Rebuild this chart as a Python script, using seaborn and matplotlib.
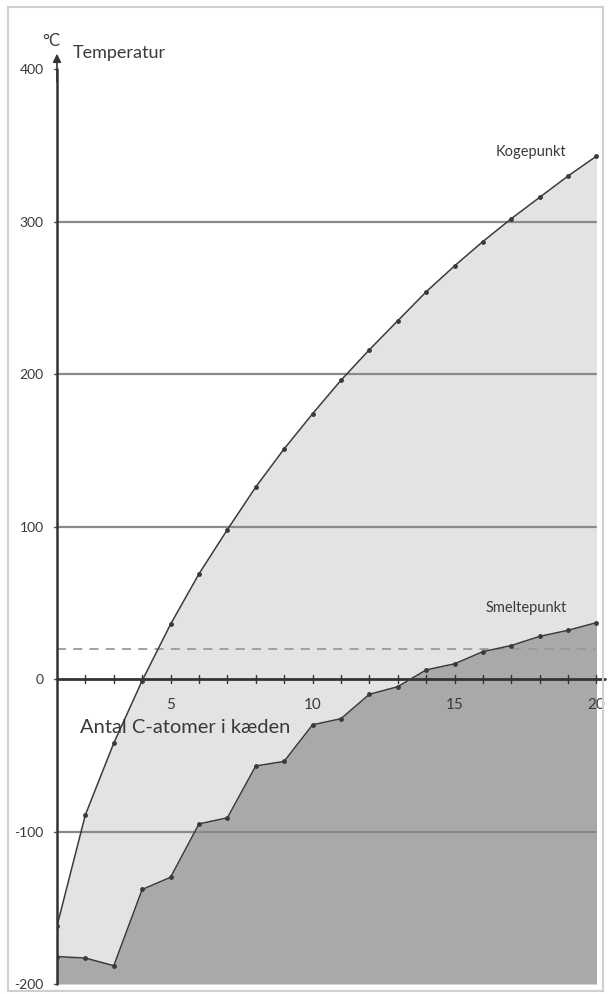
import matplotlib
matplotlib.use("Agg")
import matplotlib.pyplot as plt
import matplotlib.patches as mpatches
import pandas as pd
import seaborn as sns

# Straight-chain alkanes: boiling and melting points (°C) by chain length
carbon_atoms = list(range(1, 21))
boiling_points = [-162, -89, -42, -1, 36, 69, 98, 126, 151, 174,
                  196, 216, 235, 254, 271, 287, 302, 316, 330, 343]
melting_points = [-182, -183, -188, -138, -130, -95, -91, -57, -54, -30,
                  -26, -10, -5, 6, 10, 18, 22, 28, 32, 37]
y_ticks = [-200, -100, 0, 100, 200, 300, 400]
y_tick_labels = ["-200", "-100", "0", "100", "200", "300", "400"]
x_ticks = [5, 10, 15, 20]
grid_levels = [-100, 100, 200, 300]
room_temperature = 20

df = pd.DataFrame({"C": carbon_atoms, "kog": boiling_points, "smelt": melting_points})

sns.set_theme(style="white")
plt.rcParams["font.family"] = ["Lato", "DejaVu Sans"]

W, H = 610, 995
fig = plt.figure(figsize=(W / 100, H / 100), dpi=100)
left_px, right_px, top_px, bottom_px = 57, 605, 55, 985
ax = fig.add_axes([left_px / W, 1 - bottom_px / H,
                   (right_px - left_px) / W, (bottom_px - top_px) / H])
ax.set_xlim(1, 20.3)
ax.set_ylim(-200, 410)
ax.axis("off")

light = "#e3e3e3"
dark = "#a9a9a9"
ink = "#3a3a3a"

# shaded phases: solid below melting curve, liquid between the curves
ax.fill_between(df["C"], -200, df["smelt"], color=dark, lw=0, zorder=1)
ax.fill_between(df["C"], df["smelt"], df["kog"], color=light, lw=0, zorder=1)

# horizontal reference lines
for g in grid_levels:
    ax.plot([1, 20], [g, g], color="#8a8a8a", lw=1.6, zorder=2)
ax.plot([1, 20], [room_temperature] * 2, color="#9a9a9a", lw=1.3,
        ls=(0, (5, 4)), zorder=2)

# curves with a dot at each chain length
sns.lineplot(data=df, x="C", y="kog", ax=ax, color=ink, lw=1.1,
             marker="o", markersize=3.5, markeredgewidth=0, zorder=4)
sns.lineplot(data=df, x="C", y="smelt", ax=ax, color=ink, lw=1.1,
             marker="o", markersize=3.5, markeredgewidth=0, zorder=4)

# x-axis at 0 °C with a tick at every carbon count
ax.plot([1, 20.3], [0, 0], color="#333333", lw=2.0, zorder=3, clip_on=False)
for c in carbon_atoms:
    ax.plot([c, c], [-2.5, 2.5], color="#333333", lw=1.0, zorder=3)
for t in x_ticks:
    ax.text(t, -12, str(t), ha="center", va="top", fontsize=11, color=ink)

# y-axis with arrow head
ax.plot([1, 1], [-200, 400], color="#333333", lw=1.8, zorder=5, clip_on=False)
ax.annotate("", xy=(1, 412), xytext=(1, 390),
            arrowprops=dict(arrowstyle="-|>", color="#333333", lw=1.2,
                            mutation_scale=12), annotation_clip=False)
for t, lab in zip(y_ticks, y_tick_labels):
    ax.plot([0.88, 1], [t, t], color="#555555", lw=1.0, clip_on=False)
    ax.text(0.53, t, lab, ha="right", va="center", fontsize=10, color=ink)

ax.text(0.8, 414, "°C", ha="center", va="bottom", fontsize=12, color=ink)
ax.text(1.55, 411, "Temperatur", ha="left", va="center", fontsize=13, color=ink)
ax.text(18.95, 342, "Kogepunkt", ha="right", va="bottom", fontsize=10.5, color=ink)
ax.text(18.95, 43, "Smeltepunkt", ha="right", va="bottom", fontsize=10.5, color=ink)
ax.text(1.8, -31, "Antal C-atomer i kæden", ha="left", va="center",
        fontsize=14.5, color=ink, zorder=6)

# light frame round the figure
fig.patches.append(mpatches.Rectangle((8 / W, 3 / H), (603 - 8) / W, (987 - 3) / H,
                                      transform=fig.transFigure, fill=False,
                                      edgecolor="#cfcfcf", lw=1.5))

fig.savefig("out.png", dpi=100)
